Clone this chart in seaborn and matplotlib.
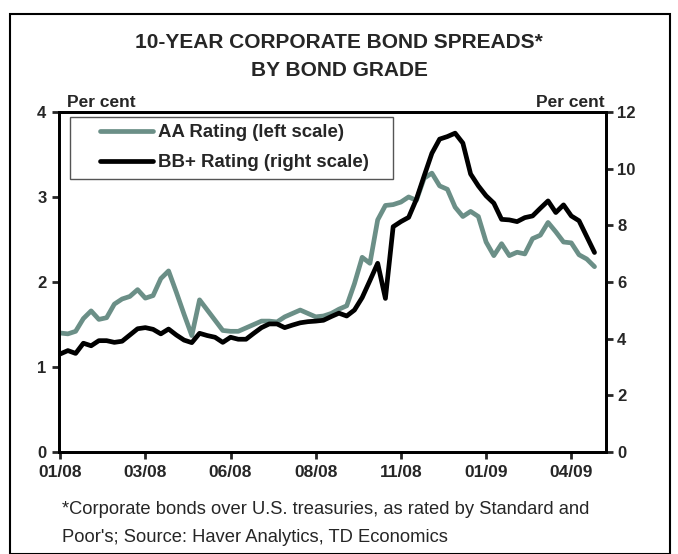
import numpy as np
import pandas as pd
import seaborn as sns
from matplotlib import pyplot as plt
from matplotlib.patches import Rectangle

sns.set_style("white")
plt.rcParams["font.family"] = ["Liberation Sans", "DejaVu Sans"]

# weekly observations, Jan 2008 - May 2009
aa_rating = [1.40, 1.39, 1.42, 1.57, 1.66, 1.56, 1.58, 1.74, 1.80, 1.83,
             1.91, 1.81, 1.84, 2.04, 2.13, 1.88, 1.62, 1.37, 1.79, 1.67,
             1.55, 1.43, 1.42, 1.42, 1.46, 1.50, 1.54, 1.54, 1.53, 1.59,
             1.63, 1.67, 1.63, 1.59, 1.60, 1.63, 1.68, 1.72, 1.98, 2.29,
             2.22, 2.73, 2.90, 2.91, 2.94, 3.00, 2.96, 3.22, 3.28, 3.13,
             3.09, 2.88, 2.77, 2.83, 2.77, 2.47, 2.31, 2.45, 2.31, 2.35,
             2.33, 2.51, 2.55, 2.70, 2.59, 2.47, 2.46, 2.32, 2.27, 2.18]
bb_rating = [3.46, 3.58, 3.48, 3.84, 3.75, 3.93, 3.93, 3.87, 3.91, 4.13,
             4.35, 4.39, 4.33, 4.17, 4.34, 4.13, 3.95, 3.86, 4.19, 4.11,
             4.05, 3.87, 4.05, 3.98, 3.98, 4.19, 4.39, 4.52, 4.52, 4.39,
             4.48, 4.56, 4.60, 4.62, 4.65, 4.78, 4.90, 4.80, 5.01, 5.45,
             6.05, 6.66, 5.42, 7.95, 8.13, 8.28, 8.92, 9.74, 10.54, 11.04,
             11.13, 11.25, 10.90, 9.81, 9.39, 9.04, 8.78, 8.21, 8.19, 8.13,
             8.27, 8.33, 8.60, 8.86, 8.45, 8.72, 8.33, 8.16, 7.60, 7.04]
tick_labels = ["01/08", "03/08", "06/08", "08/08", "11/08", "01/09", "04/09"]

df = pd.DataFrame({"week": np.arange(len(aa_rating)), "aa": aa_rating, "bb": bb_rating})

fig = plt.figure(figsize=(6.78, 5.54), dpi=100)
fig.patches.append(Rectangle((0.015, 0.0), 0.973, 0.975, transform=fig.transFigure,
                             fill=False, edgecolor="black", linewidth=1.5))
ax = fig.add_axes([0.087, 0.184, 0.807, 0.614])
ax2 = ax.twinx()

sns.lineplot(data=df, x="week", y="aa", ax=ax, color="#6b8f87", linewidth=3.4,
             label="AA Rating (left scale)", legend=False)
sns.lineplot(data=df, x="week", y="bb", ax=ax2, color="black", linewidth=3.4,
             label="BB+ Rating (right scale)", legend=False)

ax.set_xlim(-0.15, 70.5)
ax.set_ylim(0, 4)
ax2.set_ylim(0, 12)
ax.set_xticks(np.arange(0, 67, 11))
ax.set_xticklabels(tick_labels)
ax.set_yticks([0, 1, 2, 3, 4])
ax2.set_yticks([0, 2, 4, 6, 8, 10, 12])
ax.set_xlabel("")
ax.set_ylabel("")
ax2.set_ylabel("")

for a in (ax, ax2):
    for s in a.spines.values():
        s.set_linewidth(2.0)
        s.set_color("black")
    a.tick_params(width=2, length=5, labelsize=12, direction="out")
    for lbl in a.get_xticklabels() + a.get_yticklabels():
        lbl.set_fontweight("bold")
ax.tick_params(axis="x", bottom=True, pad=4, labelsize=12.5)
ax.tick_params(axis="y", left=True, pad=4)
ax2.tick_params(axis="y", right=True, pad=3)

ax.text(0.015, 1.005, "Per cent", transform=ax.transAxes, fontsize=12.5,
        fontweight="bold", ha="left", va="bottom")
ax.text(0.998, 1.005, "Per cent", transform=ax.transAxes, fontsize=12.5,
        fontweight="bold", ha="right", va="bottom")

# legend box drawn separately so the side padding can be wider than the top/bottom
fig.patches.append(Rectangle((0.1032, 0.677), 0.4764, 0.112, transform=fig.transFigure,
                             fill=False, edgecolor="#555555", linewidth=1.0, zorder=5))
h1, l1 = ax.get_legend_handles_labels()
h2, l2 = ax2.get_legend_handles_labels()
leg = ax2.legend(h1 + h2, l1 + l2, loc="upper left",
                 bbox_to_anchor=(100 / 678, 1 - 124 / 554), bbox_transform=fig.transFigure,
                 frameon=False, prop={"weight": "bold", "size": 13.4},
                 handlelength=2.85, borderpad=0, borderaxespad=0,
                 labelspacing=0.72, handletextpad=0.25)

fig.text(0.5, 1 - 42 / 554, "10-YEAR CORPORATE BOND SPREADS*", ha="center", va="center",
         fontsize=15, fontweight="bold")
fig.text(0.5, 1 - 70 / 554, "BY BOND GRADE", ha="center", va="center",
         fontsize=15, fontweight="bold")
fig.text(0.0914, 1 - 510 / 554, "*Corporate bonds over U.S. treasuries, as rated by Standard and",
         ha="left", va="center", fontsize=13.2)
fig.text(0.0914, 1 - 537 / 554, "Poor's; Source: Haver Analytics, TD Economics",
         ha="left", va="center", fontsize=13.2)

fig.savefig("out.png", dpi=100)
